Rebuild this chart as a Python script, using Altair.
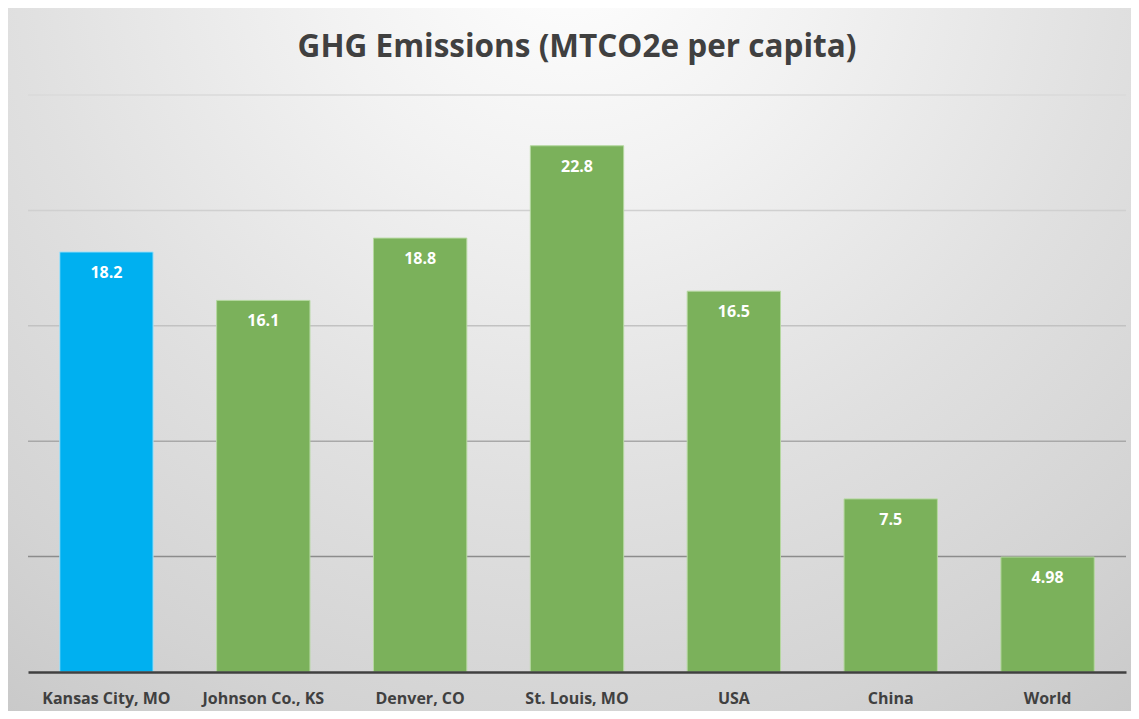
import altair as alt
import pandas as pd

categories = ["Kansas City, MO", "Johnson Co., KS", "Denver, CO", "St. Louis, MO", "USA", "China", "World"]
values = [18.2, 16.1, 18.8, 22.8, 16.5, 7.5, 4.98]
value_labels = ["18.2", "16.1", "18.8", "22.8", "16.5", "7.5", "4.98"]
highlight = ["yes", "no", "no", "no", "no", "no", "no"]
grid_values = [5, 10, 15, 20, 25]
title_text = ["GHG Emissions (MTCO2e per capita)"]

df = pd.DataFrame({"cat": categories, "val": values, "lab": value_labels, "hl": highlight})
gdf = pd.DataFrame({"v": grid_values})

W, H = 1098, 577
PL, PR, PT, PB = 20, 5, 87, 39

FONT = "Open Sans"
YSCALE = alt.Scale(domain=[0, 25], nice=False, zero=True)

bg = alt.Chart(pd.DataFrame({"a": [0]})).mark_rect(
    clip=False,
    fill={
        "gradient": "radial",
        "x1": 0.5, "y1": 0.12, "r1": 0.0,
        "x2": 0.5, "y2": 0.12, "r2": 0.9,
        "stops": [
            {"offset": 0.0, "color": "#ffffff"},
            {"offset": 0.25, "color": "#f2f2f2"},
            {"offset": 0.55, "color": "#e0e0e0"},
            {"offset": 0.8, "color": "#d3d3d3"},
            {"offset": 1.0, "color": "#c6c6c6"},
        ],
    },
).encode(
    x=alt.value(-PL), x2=alt.value(W + PR),
    y=alt.value(-PT), y2=alt.value(H + PB),
)

title = alt.Chart(pd.DataFrame({"t": title_text})).mark_text(
    font=FONT, fontSize=31.5, fontWeight="bold", color="#404040",
    align="center", baseline="alphabetic", clip=False,
).encode(x=alt.value(W / 2), y=alt.value(-38), text="t:N")

grid = alt.Chart(gdf).mark_rule(strokeWidth=1.5).encode(
    y=alt.Y("v:Q", scale=YSCALE, axis=None),
    color=alt.Color("v:O", scale=alt.Scale(domain=grid_values,
                                           range=["#8c8c8c", "#a8a8a8", "#c2c2c2", "#d0d0d0", "#dadada"]),
                    legend=None),
)

xenc = alt.X("cat:N", sort=categories, title=None,
             scale=alt.Scale(paddingInner=0.405, paddingOuter=0.2025),
             axis=alt.Axis(labelAngle=0, ticks=False, domain=True, domainColor="#404040",
                           domainWidth=2.5, labelFont=FONT, labelFontSize=16,
                           labelFontWeight="bold", labelColor="#404040", labelPadding=18,
                           grid=False, zindex=1))
yenc = alt.Y("val:Q", title=None, scale=YSCALE, axis=None)

bars = alt.Chart(df).mark_bar(strokeWidth=1).encode(
    x=xenc,
    y=yenc,
    fill=alt.Fill("hl:N", scale=alt.Scale(domain=["yes", "no"], range=["#00b0f0", "#7bb15b"]), legend=None),
    stroke=alt.Stroke("hl:N", scale=alt.Scale(domain=["yes", "no"], range=["#a6e0f7", "#b5d8a0"]), legend=None),
)

texts = alt.Chart(df).mark_text(
    baseline="middle", dy=21, color="white", font=FONT, fontSize=16, fontWeight="bold"
).encode(
    x=alt.X("cat:N", sort=categories),
    y=alt.Y("val:Q", scale=YSCALE),
    text="lab:N",
)

chart = alt.layer(bg, title, grid, bars, texts).resolve_scale(color="independent").properties(
    width=W, height=H,
    padding={"left": PL, "right": PR, "top": PT, "bottom": PB},
    autosize=alt.AutoSizeParams(type="none"),
).configure_view(stroke=None)

chart.save("out.html", embed_options={"renderer": "svg", "actions": False})
